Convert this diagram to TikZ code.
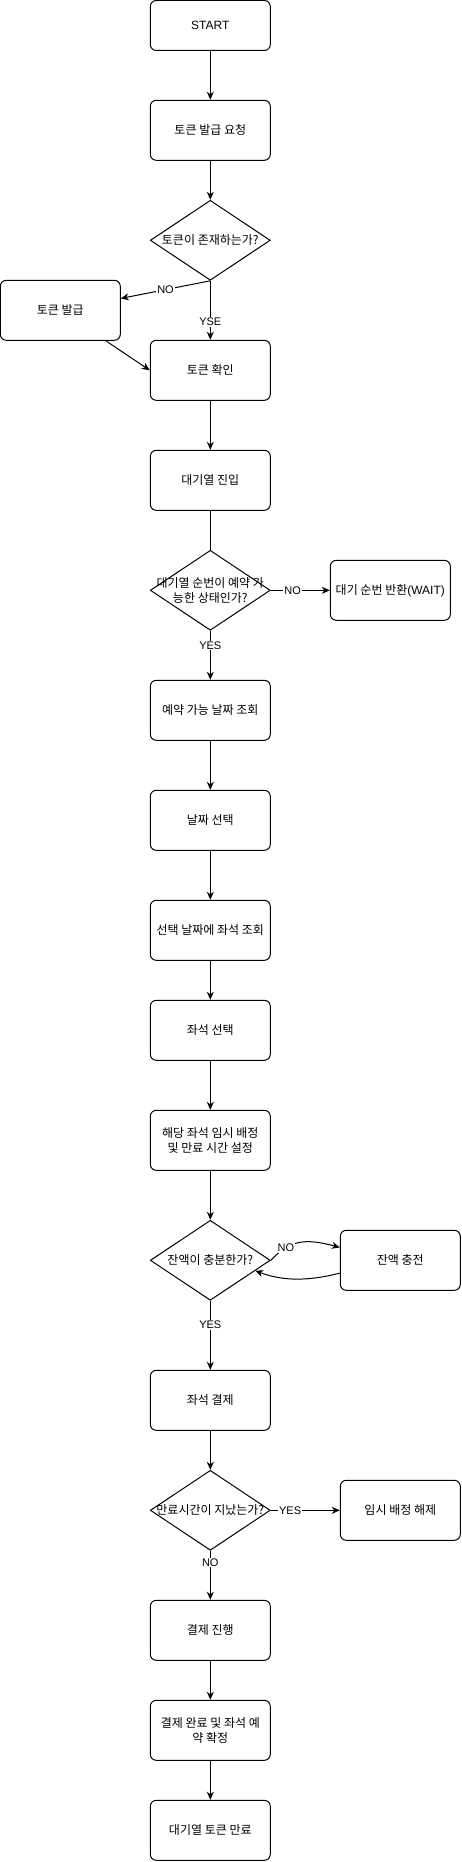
\documentclass[tikz,border=0pt]{standalone}
\usepackage{fontspec}
\setmainfont{Liberation Sans}
\newfontfamily\kr{Noto Sans CJK KR}
\usepackage{tikz}
\usetikzlibrary{positioning}
\usetikzlibrary{shapes.geometric,arrows.meta}
\tikzset{
    process/.style={
		draw, line width=1pt, rounded corners=6pt,
		minimum width=120pt, minimum height=60pt, inner sep=0pt,
		align=center, font=\fontsize{12}{14.5}\selectfont\kr
	}
}
\tikzset{
    decision/.style={
		draw, diamond, line width=1pt,
		minimum width=120pt, minimum height=80pt, inner sep=0pt
	},
    dtext/.style={
		align=center, inner sep=0pt, font=\fontsize{12}{14.5}\selectfont\kr
	}
}
\tikzset{
    link/.style={line width=1pt},
    flow/.style={link, -{Stealth[length=8pt,width=7pt,inset=2.5pt]}},
    edgetag/.style={fill=white, inner sep=1pt, font=\fontsize{11}{13}\selectfont}
}

\begin{document}
\begin{tikzpicture}[x=1pt,y=-1pt]
			\useasboundingbox (0,0) rectangle (462,1862);
			\node[process, minimum height=50pt, font=\fontsize{12}{14.5}\selectfont] (start) at (210.3,25.5) {START};
			\node[process] (req) at (210.3,130.3) {토큰 발급 요청};
			\node[decision, label={[dtext]center:토큰이 존재하는가?}] (hasToken) at (210.3,240.3) {};
			\node[process] (issue) at (60.3,310.3) {토큰 발급};
			\node[process] (check) at (210.3,370.3) {토큰 확인};
			\node[process] (queue) at (210.3,480.3) {대기열 진입};
			\node[decision, label={[dtext]center:대기열 순번이 예약 가\\능한 상태인가?}] (canBook) at (210.3,590.3) {};
			\node[process] (wait) at (390.3,590.3) {대기 순번 반환{\rmfamily(WAIT)}};
			\node[process] (avail) at (210.3,710.3) {예약 가능 날짜 조회};
			\node[process] (pickDate) at (210.3,820.3) {날짜 선택};
			\node[process] (seats) at (210.3,930.3) {선택 날짜에 좌석 조회};
			\node[process] (pickSeat) at (210.3,1030.3) {좌석 선택};
			\node[process] (hold) at (210.3,1140.3) {해당 좌석 임시 배정\\및 만료 시간 설정};
			\node[decision, label={[dtext]center:잔액이 충분한가?}] (enough) at (210.3,1260.3) {};
			\node[process] (charge) at (400.3,1260.3) {잔액 충전};
			\node[process] (pay) at (210.3,1400.3) {좌석 결제};
			\node[decision, label={[dtext]center:만료시간이 지났는가?}] (expired) at (210.3,1510.3) {};
			\node[process] (release) at (400.3,1510.3) {임시 배정 해제};
			\node[process] (proceed) at (210.3,1630.3) {결제 진행};
			\node[process] (done) at (210.3,1730.3) {결제 완료 및 좌석 예\\약 확정};
			\node[process] (expire) at (210.3,1830.3) {대기열 토큰 만료};
			\draw[flow] (start) -- (req);
			\draw[flow] (req) -- (hasToken);
			\draw[flow] (hasToken.south) -- node[edgetag] (noToken) {NO} (issue);
			\draw[flow] (hasToken) -- node[edgetag, pos=0.7] (yesToken) {YSE} (check);
			\draw[flow] (issue) -- (check.west);
			\draw[flow] (check) -- (queue);
			\draw[link] (queue) -- (canBook);
			\draw[flow] (canBook) -- node[edgetag, pos=0.37] (noBook) {NO} (wait);
			\draw[flow] (canBook) -- node[edgetag, pos=0.3] (yesBook) {YES} (avail);
			\draw[flow] (avail) -- (pickDate);
			\draw[flow] (pickDate) -- (seats);
			\draw[flow] (seats) -- (pickSeat);
			\draw[flow] (pickSeat) -- (hold);
			\draw[flow] (hold) -- (enough);
			\draw[flow] (enough.east) .. controls (290,1240) and (305,1238) .. node[edgetag, pos=0.27] (noMoney) {NO} (charge.168);
			\draw[flow] (charge.192) .. controls (320,1278) and (290,1284) .. (enough.-13);
			\draw[flow] (enough) -- node[edgetag, pos=0.35] (yesMoney) {YES} (pay);
			\draw[flow] (pay) -- (expired);
			\draw[flow] (expired) -- node[edgetag, pos=0.28] (yesExpired) {YES} (release);
			\draw[flow] (expired) -- node[edgetag, pos=0.24] (noExpired) {NO} (proceed);
			\draw[flow] (proceed) -- (done);
			\draw[flow] (done) -- (expire);
\end{tikzpicture}
\end{document}
